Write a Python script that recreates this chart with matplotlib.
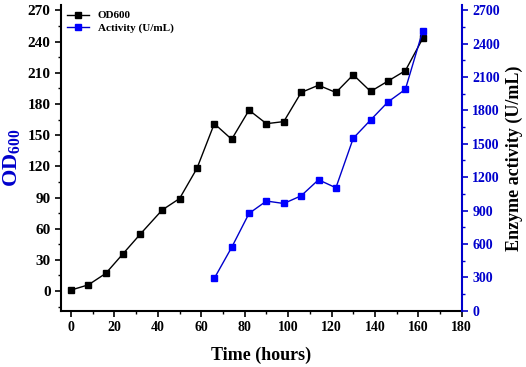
import matplotlib
matplotlib.use('Agg')
import matplotlib.pyplot as plt
from matplotlib.ticker import MultipleLocator

plt.rcParams['font.family'] = ['Liberation Serif', 'DejaVu Serif']
plt.rcParams['font.weight'] = 'bold'
plt.rcParams['mathtext.fontset'] = 'custom'
plt.rcParams['mathtext.rm'] = 'Liberation Serif:bold'
plt.rcParams['mathtext.bf'] = 'Liberation Serif:bold'
plt.rcParams['mathtext.it'] = 'Liberation Serif:bold'

time_od = [0, 8, 16, 24, 32, 42, 50, 58, 66, 74, 82, 90, 98, 106, 114, 122, 130, 138, 146, 154, 162]
od600 = [1, 6, 17, 36, 55, 78, 89, 118, 161, 146, 174, 161, 163, 191, 198, 191, 208, 192, 202, 212, 243]

time_act = [66, 74, 82, 90, 98, 106, 114, 122, 130, 138, 146, 154, 162]
activity = [292, 570, 875, 986, 964, 1033, 1177, 1105, 1550, 1714, 1876, 1989, 2514]

blue = '#0000CC'

fig = plt.figure(figsize=(5.26, 3.67), dpi=100)
ax = fig.add_axes([0.116, 0.153, 0.762, 0.833])
ax2 = ax.twinx()

l1, = ax.plot(time_od, od600, color='black', lw=1, marker='s', ms=5, label='OD600')
l2, = ax2.plot(time_act, activity, color=blue, lw=1, marker='s', ms=5,
               mfc='#0000FF', mec='#0000FF', label='Activity (U/mL)')

ax.set_xlim(-4.6, 180)
ax.set_ylim(-19, 275)
ax2.set_ylim(0, 2745)

ax.xaxis.set_major_locator(MultipleLocator(20))
ax.xaxis.set_minor_locator(MultipleLocator(10))
ax.yaxis.set_major_locator(MultipleLocator(30))
ax.yaxis.set_minor_locator(MultipleLocator(15))
ax2.yaxis.set_major_locator(MultipleLocator(300))
ax2.yaxis.set_minor_locator(MultipleLocator(150))

for a in (ax, ax2):
    a.spines['top'].set_visible(False)
ax.spines['right'].set_visible(False)
ax.spines['left'].set_linewidth(1.5)
ax.spines['bottom'].set_linewidth(1.5)
ax2.spines['left'].set_visible(False)
ax2.spines['bottom'].set_visible(False)
ax2.spines['right'].set_color(blue)
ax2.spines['right'].set_linewidth(1.5)

ax.tick_params(which='major', direction='out', length=4, width=1.2, labelsize=10)
ax.tick_params(axis='y', labelsize=11)
ax.tick_params(which='minor', direction='out', length=2.5, width=1)
ax2.tick_params(which='major', direction='out', length=4, width=1.2, labelsize=10,
                colors=blue)
ax2.tick_params(which='minor', direction='out', length=2.5, width=1, colors=blue)

ax.set_xlabel('Time (hours)', fontsize=13, fontweight='bold', labelpad=9)
ax.set_ylabel(r'$\mathbf{OD}_{\mathbf{600}}$', fontsize=16, color=blue)
ax2.set_ylabel('Enzyme activity (U/mL)', fontsize=13, fontweight='bold')

leg = ax.legend([l1, l2], ['OD600', 'Activity (U/mL)'], loc='upper left',
                frameon=False, prop={'size': 8, 'weight': 'bold'},
                handlelength=2.0, borderaxespad=0.1, labelspacing=0.2)

fig.savefig('out.png', dpi=100)
